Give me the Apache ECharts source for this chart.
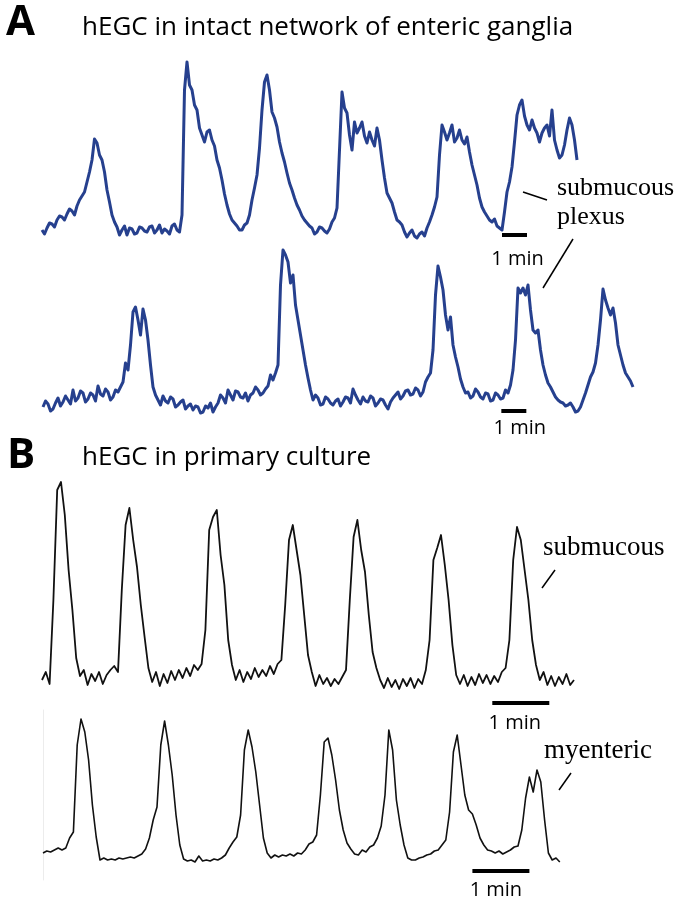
<!DOCTYPE html>
<html>
<head>
<meta charset="utf-8">
<script src="https://cdn.jsdelivr.net/npm/echarts@6/dist/echarts.min.js"></script>
<style>
  html, body { margin: 0; background: #fff; }
  #chart { width: 681px; height: 900px; }
</style>
</head>
<body>
<div id="chart"></div>
<script>
// sampling interval of each recording, in seconds
const dtA = 6;
const dtB = 4;

// A: hEGC in intact network, Ca2+ fluorescence (a.u.)
const a1Submucous = [
  10, 6, 12, 17, 16, 13, 20, 24, 23, 20, 26, 31, 29, 25, 34, 40, 44, 48, 58, 68,
  80, 101, 97, 85, 80, 68, 50, 38, 25, 18, 13, 5, 10, 14, 5, 12, 11, 6, 7, 13,
  12, 9, 8, 13, 14, 7, 10, 15, 7, 11, 9, 6, 14, 16, 10, 8, 25, 150, 178, 155,
  150, 135, 130, 112, 105, 98, 108, 110, 100, 94, 80, 72, 60, 46, 35, 26, 20, 17, 14, 10,
  10, 15, 17, 25, 40, 52, 65, 92, 130, 158, 165, 150, 128, 122, 113, 98, 87, 78, 67, 57,
  50, 42, 35, 30, 24, 20, 17, 14, 12, 6, 8, 13, 12, 9, 7, 11, 18, 22, 32, 90,
  148, 132, 127, 105, 90, 118, 107, 112, 118, 104, 97, 108, 100, 94, 112, 100, 80, 62, 47, 42,
  37, 28, 20, 18, 15, 8, 3, 7, 10, 4, 2, 6, 8, 4, 12, 18, 25, 33, 43, 85,
  115, 108, 100, 107, 115, 98, 102, 110, 100, 96, 103, 88, 75, 65, 55, 42, 33, 28, 24, 20,
  18, 21, 14, 12, 10, 28, 48, 58, 73, 98, 125, 135, 140, 124, 115, 110, 120, 112, 107, 98,
  107, 112, 115, 104, 130, 100, 90, 82, 85, 95, 110, 122, 115, 100, 80
];
const a2Plexus = [
  8, 14, 11, 4, 6, 12, 17, 9, 13, 19, 15, 11, 25, 14, 17, 24, 22, 13, 16, 22,
  20, 14, 29, 21, 19, 26, 23, 15, 18, 25, 23, 28, 33, 52, 45, 70, 103, 108, 95, 80,
  106, 95, 75, 50, 28, 20, 15, 10, 19, 14, 12, 18, 16, 8, 10, 13, 15, 6, 9, 11,
  5, 9, 8, 2, 3, 9, 7, 12, 3, 8, 12, 20, 17, 12, 25, 20, 15, 24, 23, 18,
  17, 22, 14, 20, 22, 28, 25, 20, 22, 26, 29, 40, 35, 42, 50, 130, 165, 160, 153, 132,
  140, 110, 95, 80, 65, 50, 37, 25, 15, 20, 17, 10, 11, 18, 16, 12, 10, 14, 16, 9,
  13, 18, 17, 12, 26, 20, 15, 11, 18, 14, 13, 19, 17, 9, 12, 16, 15, 10, 6, 13,
  17, 20, 23, 16, 19, 24, 25, 20, 21, 27, 25, 19, 23, 33, 38, 42, 65, 120, 149, 138,
  125, 100, 85, 98, 70, 58, 48, 36, 28, 22, 23, 17, 19, 26, 23, 18, 16, 22, 21, 14,
  15, 22, 20, 16, 17, 25, 22, 30, 45, 75, 127, 122, 127, 120, 130, 105, 85, 82, 85, 65,
  50, 40, 32, 28, 23, 18, 15, 13, 12, 9, 10, 12, 8, 3, 4, 8, 15, 22, 30, 38,
  43, 52, 70, 95, 126, 115, 107, 100, 107, 92, 70, 60, 50, 42, 38, 34, 28
];

// B: hEGC in primary culture
const b1Submucous = [
  15, 23, 11, 95, 205, 213, 180, 125, 85, 37,
  19, 25, 10, 21, 14, 23, 11, 20, 25, 29,
  23, 105, 170, 187, 155, 128, 90, 58, 27, 13,
  23, 9, 21, 12, 24, 15, 25, 17, 27, 19,
  30, 25, 31, 65, 165, 178, 185, 140, 110, 55,
  30, 15, 25, 13, 23, 16, 27, 18, 25, 19,
  29, 21, 31, 35, 90, 155, 170, 145, 120, 80,
  40, 23, 9, 20, 11, 17, 9, 16, 11, 18,
  25, 95, 158, 175, 145, 123, 80, 43, 27, 15,
  7, 17, 8, 15, 6, 16, 9, 17, 7, 16,
  11, 25, 55, 135, 147, 160, 130, 95, 50, 20,
  11, 20, 9, 18, 10, 21, 12, 20, 11, 19,
  13, 23, 27, 55, 135, 168, 155, 125, 95, 55,
  30, 15, 23, 10, 19, 9, 18, 11, 21, 10,
  15
];
const b2Myenteric = [
  17, 19, 18, 20, 22, 20, 22, 32, 38, 125,
  151, 138, 110, 65, 33, 10, 12, 10, 11, 10,
  12, 11, 12, 13, 12, 14, 16, 21, 32, 50,
  63, 125, 149, 125, 95, 55, 25, 11, 9, 10,
  8, 14, 9, 10, 9, 11, 10, 12, 15, 22,
  28, 33, 55, 120, 140, 123, 98, 65, 32, 17,
  12, 15, 13, 15, 14, 16, 14, 17, 16, 20,
  26, 28, 35, 75, 128, 132, 115, 90, 60, 40,
  27, 21, 16, 15, 20, 18, 23, 25, 32, 44,
  75, 140, 120, 70, 45, 25, 12, 10, 10, 12,
  13, 15, 16, 19, 20, 25, 30, 58, 118, 135,
  105, 75, 60, 56, 45, 32, 25, 20, 19, 17,
  19, 16, 18, 20, 23, 24, 40, 72, 93, 78,
  100, 88, 50, 17, 10, 12, 8
];

// 1 min scale bars: start time (s) and level (a.u.), one per trace
const scaleBarStart = [1104, 1100, 474, 452];
const scaleBarLevel = [5, 4, -8, -1];
const scaleBarLength = 60;
const scaleBarText = "1 min";

const BLUE = "#26408e";
const sans = '"Open Sans", sans-serif';
const serif = '"Liberation Serif", "DejaVu Serif", serif';

const traces = [
  { values: a1Submucous, dt: dtA, color: BLUE, width: 3 },
  { values: a2Plexus, dt: dtA, color: BLUE, width: 3 },
  { values: b1Submucous, dt: dtB, color: "#111", width: 1.8 },
  { values: b2Myenteric, dt: dtB, color: "#111", width: 1.6 },
];

// panel placement (px) and value ranges
const grids = [
  { left: 42, top: 40, width: 535, height: 200 },
  { left: 43, top: 215, width: 590, height: 200 },
  { left: 42, top: 475, width: 532, height: 240 },
  { left: 43, top: 710, width: 516.8, height: 170 },
];
const yRange = [[0, 200], [0, 200], [-20, 220], [-10, 160]];
const labelShift = [[3, 24], [6, 17], [-6, 20], [-5, 19]];

const series = [];
traces.forEach((tr, k) => {
  series.push({
    type: "line",
    xAxisIndex: k,
    yAxisIndex: k,
    data: tr.values.map((v, i) => [i * tr.dt, v]),
    showSymbol: false,
    lineStyle: { color: tr.color, width: tr.width, join: "round" },
    silent: true,
  });
  const s = scaleBarStart[k];
  const lvl = scaleBarLevel[k];
  series.push({
    type: "line",
    xAxisIndex: k,
    yAxisIndex: k,
    data: [[s, lvl], [s + scaleBarLength, lvl]],
    showSymbol: false,
    lineStyle: { color: "#000", width: 4, cap: "butt" },
    silent: true,
  });
  // "1 min" text under each bar
  series.push({
    type: "scatter",
    xAxisIndex: k,
    yAxisIndex: k,
    data: [[s + scaleBarLength / 2, lvl]],
    symbolSize: 0,
    silent: true,
    itemStyle: { opacity: 1 },
    label: {
      show: true,
      formatter: scaleBarText,
      position: labelShift[k],
      align: "center",
      verticalAlign: "middle",
      fontFamily: sans,
      fontSize: 20,
      color: "#000",
      opacity: 1,
    },
  });
});

const text = (str, x, y, font) => ({
  type: "text",
  x, y,
  style: { text: str, font, fill: "#000", textVerticalAlign: "middle" },
});
const seg = (x1, y1, x2, y2) => ({
  type: "line",
  shape: { x1, y1, x2, y2 },
  style: { stroke: "#000", lineWidth: 1.5 },
});

const chart = echarts.init(document.getElementById("chart"));
chart.setOption({
  animation: false,
  backgroundColor: "#fff",
  grid: grids,
  xAxis: traces.map((tr, k) => ({
    type: "value",
    gridIndex: k,
    min: 0,
    max: (tr.values.length - 1) * tr.dt,
    show: false,
  })),
  yAxis: traces.map((tr, k) => ({
    type: "value",
    gridIndex: k,
    min: yRange[k][0],
    max: yRange[k][1],
    show: k === 3,
    axisLine: { show: k === 3, lineStyle: { color: "#ececec", width: 1 } },
    axisTick: { show: false },
    axisLabel: { show: false },
    splitLine: { show: false },
  })),
  series,
  graphic: [
    text("A", 6, 23, "bold 42px " + sans),
    text("hEGC in intact network of enteric ganglia", 82, 28, "26px " + sans),
    text("B", 7, 456, "bold 42px " + sans),
    text("hEGC in primary culture", 82, 458, "26px " + sans),
    text("submucous", 557, 188, "26px " + serif),
    text("plexus", 557, 217, "26px " + serif),
    seg(523, 192, 547, 200),
    seg(573, 239, 543, 288),
    text("submucous", 543, 548, "27px " + serif),
    seg(555, 570, 542, 588),
    text("myenteric", 544, 751, "27px " + serif),
    seg(571, 773, 559, 790),
  ],
});
</script>
</body>
</html>
